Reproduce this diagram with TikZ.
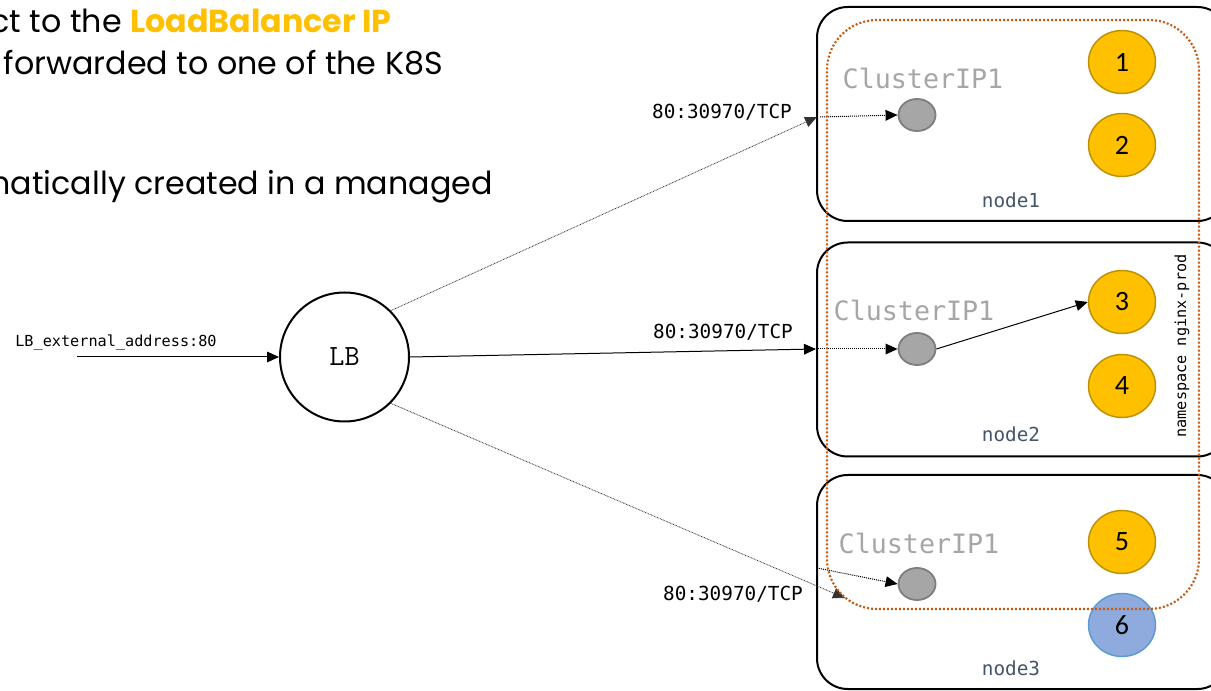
\documentclass[tikz,border=0pt]{standalone}
\usepackage{fontspec}
\setmainfont{Poppins}
\newfontfamily\monofont{DejaVu Sans Mono}
\newfontfamily\calfont{Carlito}
\usetikzlibrary{arrows.meta,shapes.geometric}

\definecolor{podfill}{HTML}{FFC000}
\definecolor{podline}{HTML}{BF9000}
\definecolor{bluefill}{HTML}{8FAADC}
\definecolor{blueline}{HTML}{5B9BD5}
\definecolor{svcfill}{HTML}{A6A6A6}
\definecolor{svcline}{HTML}{7F7F7F}
\definecolor{nsline}{HTML}{C55A11}
\definecolor{nodetext}{HTML}{44546A}
\definecolor{cipgray}{HTML}{A6A6A6}

\tikzset{
  hostbox/.style={draw, line width=1.5pt, rounded corners=23pt,
    minimum width=308.25pt, minimum height=160.5pt, inner sep=0pt},
  nsbox/.style={draw=nsline, line width=1.6pt, dash pattern=on 1.5pt off 1.5pt,
    rounded corners=37.5pt, minimum width=279pt, minimum height=441.75pt, inner sep=0pt},
  lbnode/.style={circle, draw, line width=1.5pt, minimum size=96.75pt, inner sep=0pt,
    font=\ttfamily\fontsize{22}{24}\selectfont},
  svc/.style={ellipse, draw=svcline, fill=svcfill, line width=1.4pt,
    minimum width=27.75pt, minimum height=24pt, inner sep=0pt},
  pod/.style={ellipse, draw=podline, fill=podfill, line width=1.1pt,
    minimum width=50.25pt, minimum height=47.25pt, inner sep=0pt,
    font=\calfont\fontsize{21}{22}\selectfont},
  bluepod/.style={pod, draw=blueline, fill=bluefill},
  tip/.style={-{Triangle[length=9pt,width=8pt]}},
  solidarrow/.style={tip, line width=0.75pt},
  faintarrow/.style={tip, line width=0.6pt, dash pattern=on 0.6pt off 0.6pt, draw=black!80},
  innerarrow/.style={tip, line width=0.75pt, dash pattern=on 0.75pt off 0.75pt},
  portlbl/.style={inner sep=0pt, font=\monofont\fontsize{14.5}{16}\selectfont},
  cip/.style={inner sep=0pt, text=cipgray, font=\monofont\fontsize{20}{22}\selectfont},
  hostlbl/.style={inner sep=0pt, text=nodetext, font=\monofont\fontsize{14.5}{16}\selectfont},
  slide/.style={inner sep=0pt, anchor=base east, font=\fontsize{23.8}{28}\selectfont},
}

\begin{document}
\begin{tikzpicture}[x=0.75pt, y=-0.75pt]
\useasboundingbox (0,0) rectangle (1211,691);
\clip (0,0) rectangle (1211,691);

% slide text
\node[slide] (t1) at (392,33) {ct to the \textcolor{podfill}{\bfseries LoadBalancer IP}};
\node[slide] (t2) at (443,75) {forwarded to one of the K8S};
\node[slide] (t3) at (493,195) {natically created in a managed};

% worker nodes
\node[hostbox] (n1) at (1022.5,114) {};
\node[hostbox] (n2) at (1022.5,349.5) {};
\node[hostbox] (n3) at (1022.5,582) {};
\node[hostlbl] (n1l) at (1011,200) {node1};
\node[hostlbl] (n2l) at (1011,434) {node2};
\node[hostlbl] (n3l) at (1011,668) {node3};

% namespace label
\node[rotate=90, inner sep=0pt, font=\monofont\fontsize{11.4}{13}\selectfont] (nsl) at (1182,346) {namespace nginx-prod};

% cluster IP labels and service endpoints
\node[cip] (cl1) at (923,78) {ClusterIP1};
\node[cip] (cl2) at (914,310) {ClusterIP1};
\node[cip] (cl3) at (919,543) {ClusterIP1};
\node[svc] (c1) at (917,115) {};
\node[svc] (c2) at (917,349) {};
\node[svc] (c3) at (917,584) {};

% pods
\node[pod] (p1) at (1122,62) {1};
\node[pod] (p2) at (1122,145) {2};
\node[pod] (p3) at (1122,302) {3};
\node[pod] (p4) at (1122,386) {4};
\node[pod] (p5) at (1122,542) {5};
\node[bluepod] (p6) at (1122,625) {6};

% load balancer
\node[lbnode] (lb) at (344.5,357) {LB};
\coordinate (src) at (77,357);
\node[inner sep=0pt, font=\monofont\fontsize{11.4}{13}\selectfont] (srcl) at (116,342) {LB\_external\_address:80};

% entry points on the nodes
\coordinate (n1in) at (817,117);
\coordinate (n2in) at (816,349);
\coordinate (n3in) at (845,598);
\coordinate (n3edge) at (817,568);

\node[portlbl] (pl1) at (722,112) {80:30970/TCP};
\node[portlbl] (pl2) at (723,332) {80:30970/TCP};
\node[portlbl] (pl3) at (733,594) {80:30970/TCP};

% connectors
\draw[solidarrow] (src) -- (lb.west);
\draw[faintarrow] (lb.45) -- (n1in);
\draw[solidarrow] (lb.east) -- (n2in);
\draw[faintarrow] (lb.-45) -- (n3in);
\draw[innerarrow] (820,117) -- (c1.west);
\draw[innerarrow] (n2in) -- (c2.west);
\draw[innerarrow] (n3edge) -- (c3.west);
\draw[solidarrow] (c2.east) -- (p3.west);

% namespace boundary
\node[nsbox] (ns) at (1013,314.5) {};
\end{tikzpicture}
\end{document}
